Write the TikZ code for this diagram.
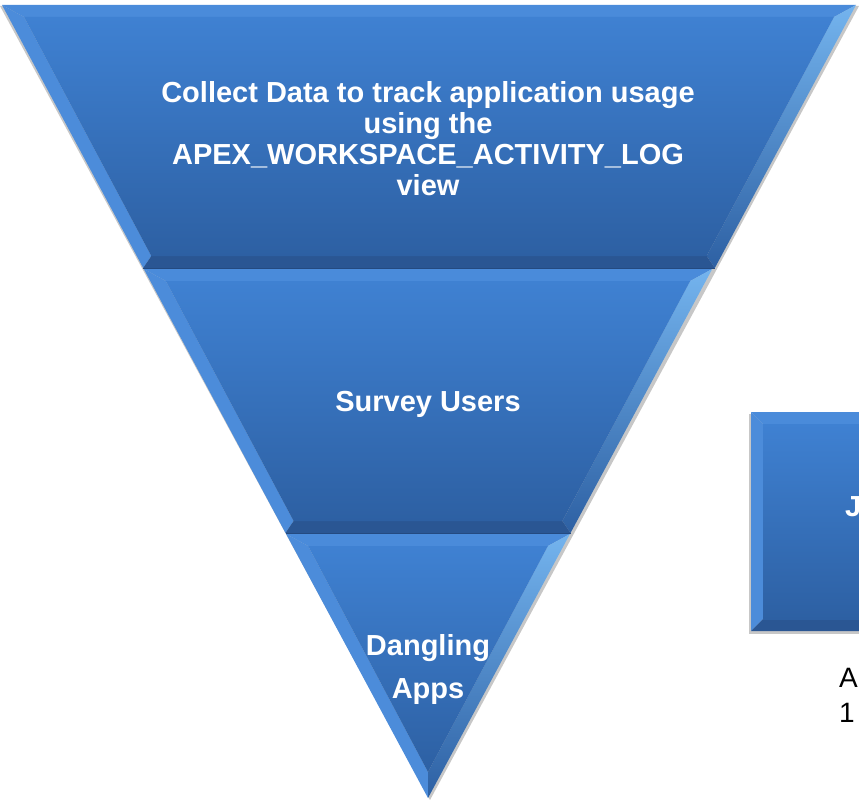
\documentclass[tikz,border=0pt]{standalone}
\usepackage{fontspec}
\setmainfont{Liberation Sans}
\definecolor{faceTop}{HTML}{3F81D2}
\definecolor{faceBot}{HTML}{2D60A3}
\definecolor{bevTop}{HTML}{4A8BDA}
\definecolor{bevLeft}{HTML}{4C8CDA}
\definecolor{bevRight}{HTML}{74B4EE}
\definecolor{bevBot}{HTML}{2A5693}
\definecolor{seam}{HTML}{244A80}
\tikzset{
  face/.style={top color=faceTop,bottom color=faceBot},
  labeltext/.style={text=white,font=\bfseries\fontsize{29}{31}\selectfont,align=center,inner sep=0pt},
  sidetext/.style={text=black,font=\fontsize{28}{34}\selectfont,anchor=west,inner sep=0pt},
  shadowfill/.style={fill=black,opacity=0.22}
}
\begin{document}
\begin{tikzpicture}[x=1pt,y=-1pt]
\useasboundingbox (0,0) rectangle (859,800);
\clip (0,0) rectangle (859,800);
% ---------- shadow of the whole funnel ----------
\fill[shadowfill] (0,6) -- (859,6) -- (430,800) -- cycle;
% ---------- section 1 ----------
\fill[bevTop] (2,5) -- (856,5) -- (834,17) -- (24,17) -- cycle;
\fill[bevLeft] (2,5) -- (24,17) -- (151.3,256) -- (143.2,268) -- cycle;
\shade[top color=bevRight,bottom color=faceBot] (856,5) -- (714.8,268) -- (706.7,256) -- (834,17) -- cycle;
\fill[bevBot] (143.2,268) -- (151.3,256) -- (706.7,256) -- (714.8,268) -- cycle;
\shade[face] (24,17) -- (834,17) -- (706.7,256) -- (151.3,256) -- cycle;
% ---------- section 2 ----------
\fill[bevTop] (143.8,269) -- (712.2,269) -- (690.2,281) -- (165.8,281) -- cycle;
\fill[bevLeft] (143.8,269) -- (165.8,281) -- (293.6,521) -- (285.5,533) -- cycle;
\shade[top color=bevRight,bottom color=faceBot] (712.2,269) -- (570.5,533) -- (562.4,521) -- (690.2,281) -- cycle;
\fill[bevBot] (285.5,533) -- (293.6,521) -- (562.4,521) -- (570.5,533) -- cycle;
\shade[face] (165.8,281) -- (690.2,281) -- (562.4,521) -- (293.6,521) -- cycle;
% ---------- section 3 ----------
\fill[bevTop] (286.1,534) -- (569.9,534) -- (547.9,546) -- (308.1,546) -- cycle;
\fill[bevLeft] (286.1,534) -- (308.1,546) -- (428,772) -- (428,798) -- cycle;
\shade[top color=bevRight,bottom color=faceBot] (569.9,534) -- (428,798) -- (428,772) -- (547.9,546) -- cycle;
\shade[face] (308.1,546) -- (547.9,546) -- (428,772) -- cycle;
% ---------- seams ----------
\draw[seam,line width=1.2pt] (143.2,268.5) -- (714.8,268.5);
\draw[seam,line width=1.2pt] (285.5,533.5) -- (570.5,533.5);
% ---------- right box ----------
\fill[shadowfill] (749,414) rectangle (870,634);
\fill[bevTop] (751,412) -- (870,412) -- (870,424) -- (763,424) -- cycle;
\fill[bevLeft] (751,412) -- (763,424) -- (763,619) -- (751,631) -- cycle;
\fill[bevBot] (751,631) -- (763,619) -- (870,619) -- (870,631) -- cycle;
\shade[face] (763,424) rectangle (870,619);
% ---------- texts ----------
\node[labeltext] (collect) at (428,139) {Collect Data to track application usage\\using the\\APEX\_WORKSPACE\_ACTIVITY\_LOG\\view};
\node[labeltext] (survey) at (428,404) {Survey Users};
\node[labeltext,font=\bfseries\fontsize{29}{43}\selectfont] (dangling) at (428,669) {Dangling\\Apps};
\node[labeltext,anchor=west] (jtext) at (845,507) {J};
\node[sidetext] (atext) at (839,678) {A};
\node[sidetext] (onetext) at (839,713) {1};
\end{tikzpicture}
\end{document}
